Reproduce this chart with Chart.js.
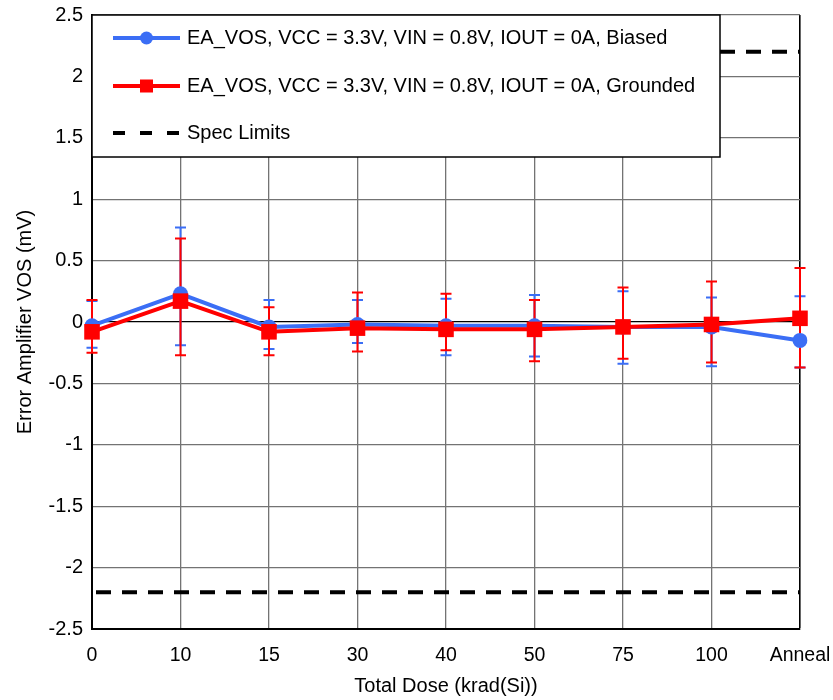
<!DOCTYPE html>
<html>
<head>
<meta charset="utf-8">
<script src="https://cdn.jsdelivr.net/npm/chart.js@4"></script>
<style>
  html, body { margin: 0; padding: 0; background: #fff; }
  #wrap { width: 833px; height: 700px; }
</style>
</head>
<body>
<div id="wrap"><canvas id="c" width="833" height="700"></canvas></div>
<script>
const categories = ['0', '10', '15', '30', '40', '50', '75', '100', 'Anneal'];

const biased   = [-0.03, 0.23, -0.04, -0.02, -0.03, -0.03, -0.04, -0.04, -0.15];
const biasedHi = [0.17, 0.77, 0.18, 0.18, 0.19, 0.22, 0.25, 0.20, 0.21];
const biasedLo = [-0.21, -0.19, -0.22, -0.17, -0.27, -0.28, -0.34, -0.36, -0.37];

const grounded   = [-0.08, 0.17, -0.08, -0.05, -0.06, -0.06, -0.04, -0.02, 0.03];
const groundedHi = [0.18, 0.68, 0.12, 0.24, 0.23, 0.18, 0.28, 0.33, 0.44];
const groundedLo = [-0.25, -0.27, -0.27, -0.24, -0.23, -0.32, -0.30, -0.33, -0.37];

const specLimits = [2.2, -2.2];
const yTicks = [-2.5, -2, -1.5, -1, -0.5, 0, 0.5, 1, 1.5, 2, 2.5];

const labelBiased = 'EA_VOS, VCC = 3.3V, VIN = 0.8V, IOUT = 0A, Biased';
const labelGrounded = 'EA_VOS, VCC = 3.3V, VIN = 0.8V, IOUT = 0A, Grounded';
const labelSpec = 'Spec Limits';

const BLUE = '#3B6EF5';
const RED = '#FF0000';
const GRID = '#737373';
const FONT = '"Liberation Sans", Arial, sans-serif';

const errorBars = [
  { dataset: 0, hi: biasedHi, lo: biasedLo, color: BLUE },
  { dataset: 1, hi: groundedHi, lo: groundedLo, color: RED }
];

const errorBarPlugin = {
  id: 'errorBars',
  beforeDatasetsDraw(chart) {
    const ctx = chart.ctx;
    const y = chart.scales.y;
    const area = chart.chartArea;
    ctx.save();
    ctx.strokeStyle = '#000';
    ctx.lineWidth = 4;
    ctx.setLineDash([15, 11]);
    specLimits.forEach(v => {
      const py = y.getPixelForValue(v);
      ctx.beginPath();
      ctx.moveTo(area.left + 4, py);
      ctx.lineTo(area.right, py);
      ctx.stroke();
    });
    ctx.restore();
    errorBars.forEach(eb => {
      const meta = chart.getDatasetMeta(eb.dataset);
      ctx.save();
      ctx.strokeStyle = eb.color;
      ctx.lineWidth = 2;
      meta.data.forEach((pt, i) => {
        const x = pt.x;
        const yh = y.getPixelForValue(eb.hi[i]);
        const yl = y.getPixelForValue(eb.lo[i]);
        ctx.beginPath();
        ctx.moveTo(x, yh); ctx.lineTo(x, yl);
        ctx.moveTo(x - 5.5, yh); ctx.lineTo(x + 5.5, yh);
        ctx.moveTo(x - 5.5, yl); ctx.lineTo(x + 5.5, yl);
        ctx.stroke();
      });
      ctx.restore();
    });
  }
};

const legendPlugin = {
  id: 'boxLegend',
  afterDatasetsDraw(chart) {
    const ctx = chart.ctx;
    const area = chart.chartArea;
    const bx = area.left, by = area.top, bw = 628, bh = 142;
    ctx.save();
    ctx.fillStyle = '#fff';
    ctx.fillRect(bx, by, bw, bh);
    ctx.strokeStyle = '#000';
    ctx.lineWidth = 1.5;
    ctx.strokeRect(bx, by, bw, bh);

    const x0 = bx + 21, x1 = bx + 88, xm = (x0 + x1) / 2, tx = bx + 95;
    const rows = [by + 23, by + 71, by + 118];
    ctx.font = '20px ' + FONT;
    ctx.textBaseline = 'middle';
    ctx.textAlign = 'left';

    ctx.strokeStyle = BLUE; ctx.lineWidth = 4;
    ctx.beginPath(); ctx.moveTo(x0, rows[0]); ctx.lineTo(x1, rows[0]); ctx.stroke();
    ctx.fillStyle = BLUE;
    ctx.beginPath(); ctx.arc(xm, rows[0], 6.5, 0, Math.PI * 2); ctx.fill();
    ctx.fillStyle = '#000';
    ctx.fillText(labelBiased, tx, rows[0]);

    ctx.strokeStyle = RED; ctx.lineWidth = 4;
    ctx.beginPath(); ctx.moveTo(x0, rows[1]); ctx.lineTo(x1, rows[1]); ctx.stroke();
    ctx.fillStyle = RED;
    ctx.fillRect(xm - 6.5, rows[1] - 6.5, 13, 13);
    ctx.fillStyle = '#000';
    ctx.fillText(labelGrounded, tx, rows[1]);

    ctx.strokeStyle = '#000'; ctx.lineWidth = 4;
    ctx.setLineDash([12, 15]);
    ctx.beginPath(); ctx.moveTo(x0, rows[2]); ctx.lineTo(x1 + 2, rows[2]); ctx.stroke();
    ctx.setLineDash([]);
    ctx.fillText(labelSpec, tx, rows[2]);
    ctx.restore();
  }
};

new Chart(document.getElementById('c'), {
  type: 'line',
  data: {
    labels: categories,
    datasets: [
      {
        label: labelBiased,
        data: biased,
        borderColor: BLUE,
        backgroundColor: BLUE,
        borderWidth: 4,
        pointStyle: 'circle',
        pointRadius: 7.5,
        pointBorderWidth: 0,
        order: 2
      },
      {
        label: labelGrounded,
        data: grounded,
        borderColor: RED,
        backgroundColor: RED,
        borderWidth: 4,
        pointStyle: 'rect',
        pointRadius: 11,
        pointBorderWidth: 0,
        order: 1
      }
    ]
  },
  options: {
    responsive: false,
    animation: false,
    layout: { padding: { left: 0, right: 33, top: 15, bottom: 0 } },
    plugins: {
      legend: { display: false },
      tooltip: { enabled: false }
    },
    scales: {
      x: {
        offset: false,
        grid: {
          drawTicks: false,
          color: ctx => ctx.index === categories.length - 1 ? '#000' : GRID,
          lineWidth: ctx => ctx.index === categories.length - 1 ? 1.6 : 1.3
        },
        border: { color: '#000', width: 2 },
        ticks: {
          color: '#000',
          font: { family: FONT, size: 19.5 },
          padding: 15,
          maxRotation: 0,
          autoSkip: false
        },
        title: {
          display: true,
          text: 'Total Dose (krad(Si))',
          color: '#000',
          font: { family: FONT, size: 20 },
          padding: { top: 0, bottom: 2 }
        },
        afterFit: s => {
          s.height = 71;
          s.paddingLeft = 0; s.paddingRight = 0;
          s.paddingTop = 0; s.paddingBottom = 0;
        }
      },
      y: {
        min: -2.5,
        max: 2.5,
        afterBuildTicks: s => { s.ticks = yTicks.map(v => ({ value: v })); },
        grid: {
          drawTicks: false,
          color: ctx => (ctx.tick && ctx.tick.value === 0) ? '#000' : GRID,
          lineWidth: 1.3
        },
        border: { color: '#000', width: 2 },
        ticks: {
          color: '#000',
          font: { family: FONT, size: 20 },
          padding: 9,
          callback: v => String(v)
        },
        title: {
          display: true,
          text: 'Error Amplifier VOS (mV)',
          color: '#000',
          font: { family: FONT, size: 20 },
          padding: { top: 13, bottom: 0 }
        },
        afterFit: s => {
          s.width = 92;
          s.paddingLeft = 0; s.paddingRight = 0;
          s.paddingTop = 0; s.paddingBottom = 0;
        }
      }
    }
  },
  plugins: [errorBarPlugin, legendPlugin]
});
</script>
</body>
</html>
